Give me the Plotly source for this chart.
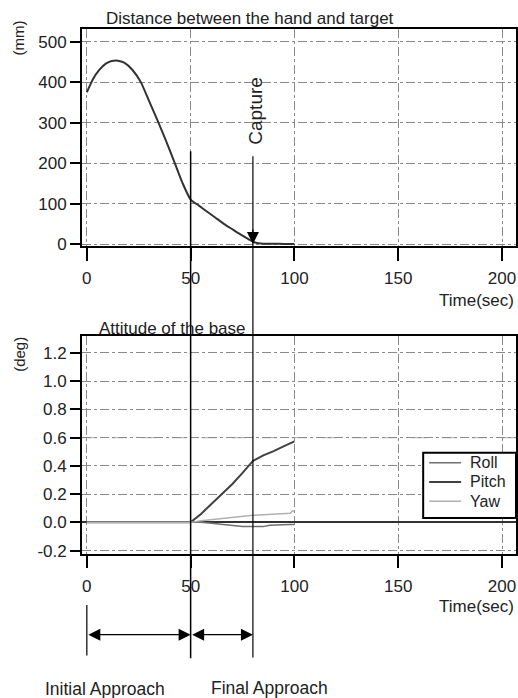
import plotly.graph_objects as go

# ---- data ----
t_dist = [0, 3, 6, 9, 12, 15, 18, 22, 26, 30, 34, 38, 42, 46, 50, 54, 58, 62, 66, 70, 74, 78, 81, 85, 90, 95, 100]
dist_mm = [375, 408, 430, 445, 452, 453, 448, 430, 400, 353, 306, 257, 205, 152, 110, 95, 80, 65, 50, 37, 24, 12, 4, 1, 1, 0.5, 0.5]

t_att = [0, 50, 55, 60, 65, 70, 75, 80, 85, 88, 90, 95, 98, 99, 100]
roll = [0, 0, 0, -0.006, -0.014, -0.022, -0.03, -0.03, -0.03, -0.02, -0.018, -0.016, -0.015, -0.015, -0.015]
pitch = [0, 0, 0.06, 0.13, 0.195, 0.27, 0.35, 0.435, 0.475, 0.49, 0.505, 0.54, 0.562, 0.568, 0.574]
yaw = [0, 0, 0.012, 0.02, 0.03, 0.037, 0.044, 0.05, 0.054, 0.056, 0.057, 0.06, 0.065, 0.08, 0.08]

series_names = ["Roll", "Pitch", "Yaw"]
series_colors = ["#707070", "#404040", "#b0b0b0"]
series_widths = [1.5, 2, 1.5]

x_ticks = [0, 50, 100, 150, 200]
y1_ticks = [0, 100, 200, 300, 400, 500]
y2_ticks = [-0.2, 0.0, 0.2, 0.4, 0.6, 0.8, 1.0, 1.2]
y2_labels = ["-0.2", "0.0", "0.2", "0.4", "0.6", "0.8", "1.0", "1.2"]

W, H = 518, 698
FONT = "Liberation Sans, Arial, sans-serif"
TXT = "#222222"

def px(x):
    return x / W

def py(y):
    return 1 - y / H

fig = go.Figure()
fig.add_trace(go.Scatter(x=t_dist, y=dist_mm, mode="lines",
                         line=dict(color="#333333", width=2, shape="spline", smoothing=0.6),
                         showlegend=False, xaxis="x", yaxis="y"))
for name, vals, col, w in zip(series_names, [roll, pitch, yaw], series_colors, series_widths):
    fig.add_trace(go.Scatter(x=t_att, y=vals, mode="lines", name=name, line=dict(color=col, width=w),
                             showlegend=False, xaxis="x2", yaxis="y2"))

xrange = [(82 - 87) / 2.08, (517 - 87) / 2.08]
common_x = dict(range=xrange, tickvals=x_ticks, showgrid=True, gridcolor="#8a8a8a", griddash="dashdot",
                gridwidth=1, showline=True, linecolor="black", linewidth=1.5, mirror=True,
                ticks="outside", ticklen=13, tickcolor="black", tickwidth=1.5, ticklabelstandoff=3,
                tickfont=dict(family=FONT, size=17, color=TXT), zeroline=False)
common_y = dict(showgrid=True, gridcolor="#8a8a8a", griddash="dashdot", gridwidth=1,
                showline=True, linecolor="black", linewidth=1.5, mirror=True,
                ticks="outside", ticklen=10, tickcolor="black", tickwidth=1.5,
                tickfont=dict(family=FONT, size=17, color=TXT))

fig.update_layout(
    width=W, height=H, margin=dict(l=0, r=0, t=0, b=0),
    plot_bgcolor="white", paper_bgcolor="white",
    xaxis=dict(domain=[px(82), px(517)], anchor="y", **common_x),
    yaxis=dict(domain=[py(249), py(29)], anchor="x", range=[-5, 532], tickvals=y1_ticks,
               zeroline=False, **common_y),
    xaxis2=dict(domain=[px(82), px(517)], anchor="y2", **common_x),
    yaxis2=dict(domain=[py(560), py(340)], anchor="x2", range=[-0.221, 1.319], tickvals=y2_ticks,
                ticktext=y2_labels, zeroline=True, zerolinecolor="#333333", zerolinewidth=1.5, **common_y),
    showlegend=False,
)

# light long-dash 0.6 grid line overlay
fig.add_shape(type="line", xref="x2 domain", yref="y2", x0=0, x1=1, y0=0.6, y1=0.6,
              line=dict(color="#bbbbbb", width=1.2, dash="longdash"), layer="below")

# vertical phase lines
fig.add_shape(type="line", xref="x2", yref="paper", x0=50, x1=50, y0=py(666), y1=py(153),
              line=dict(color="black", width=1.5))
fig.add_shape(type="line", xref="x2", yref="paper", x0=80, x1=80, y0=py(665), y1=py(158),
              line=dict(color="black", width=1.2))
fig.add_shape(type="line", xref="x2", yref="paper", x0=0, x1=0, y0=py(663), y1=py(612),
              line=dict(color="black", width=1.2))

# legend box (drawn)
fig.add_shape(type="rect", xref="paper", yref="paper", x0=px(424), x1=px(517), y0=py(524), y1=py(458),
              line=dict(color="black", width=2), fillcolor="white", layer="above")
for i, (name, col, w) in enumerate(zip(series_names, series_colors, series_widths)):
    yy = 468 + i * 19.5
    fig.add_shape(type="line", xref="paper", yref="paper", x0=px(430), x1=px(462), y0=py(yy), y1=py(yy),
                  line=dict(color=col, width=w), layer="above")
    fig.add_annotation(x=px(469), y=py(yy), xref="paper", yref="paper", text=name, showarrow=False,
                       font=dict(family=FONT, size=16, color=TXT), xanchor="left", yanchor="middle")

# capture arrowhead
fig.add_annotation(x=80, y=0, xref="x", yref="y", ax=0, ay=-16, axref="pixel", ayref="pixel",
                   showarrow=True, arrowhead=2, arrowsize=2, arrowwidth=1.2, arrowcolor="black", text="")
fig.add_annotation(x=81.5, y=py(112), xref="x", yref="paper", text="Capture", textangle=-90,
                   showarrow=False, font=dict(family=FONT, size=19, color=TXT), xanchor="center", yanchor="middle")

# phase arrows
for a, b in [(0, 50), (50, 80)]:
    fig.add_annotation(x=b, y=py(642), xref="x2", yref="paper", ax=a, ay=0, axref="x2", ayref="pixel",
                       showarrow=True, arrowhead=2, arrowside="end+start", arrowsize=2, arrowwidth=1.2,
                       arrowcolor="black", text="")

fig.add_annotation(x=px(105), y=py(697), xref="paper", yref="paper", text="Initial Approach", showarrow=False,
                   font=dict(family=FONT, size=17.5, color=TXT), xanchor="center", yanchor="middle")
fig.add_annotation(x=px(270), y=py(696), xref="paper", yref="paper", text="Final Approach", showarrow=False,
                   font=dict(family=FONT, size=17.5, color=TXT), xanchor="center", yanchor="middle")

# titles
fig.add_annotation(x=px(250), y=py(19), xref="paper", yref="paper", text="Distance between the hand and target",
                   showarrow=False, font=dict(family=FONT, size=17, color=TXT), xanchor="center", yanchor="middle")
fig.add_annotation(x=px(173), y=py(332), xref="paper", yref="paper", text="Attitude of the base",
                   showarrow=False, font=dict(family=FONT, size=17, color=TXT), xanchor="center", yanchor="middle")

# unit labels
fig.add_annotation(x=px(19), y=py(38), xref="paper", yref="paper", text="(mm)", textangle=-90, showarrow=False,
                   font=dict(family=FONT, size=15, color=TXT), xanchor="center", yanchor="middle")
fig.add_annotation(x=px(20), y=py(358), xref="paper", yref="paper", text="(deg)", textangle=-90, showarrow=False,
                   font=dict(family=FONT, size=15, color=TXT), xanchor="center", yanchor="middle")
fig.add_annotation(x=px(517), y=py(304), xref="paper", yref="paper", text="Time(sec)", showarrow=False,
                   font=dict(family=FONT, size=17, color=TXT), xanchor="right", yanchor="middle")
fig.add_annotation(x=px(517), y=py(614), xref="paper", yref="paper", text="Time(sec)", showarrow=False,
                   font=dict(family=FONT, size=17, color=TXT), xanchor="right", yanchor="middle")

fig.write_html("out.html")
